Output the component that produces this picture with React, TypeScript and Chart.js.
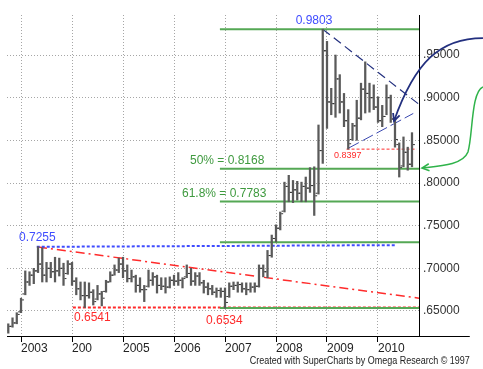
import React, { useEffect, useRef } from 'react';
import { Chart, registerables } from 'chart.js';

Chart.register(...registerables);

// Monthly EUR/GBP-style OHLC bars, Oct 2002 .. Sep 2010 (month index relative to Jan 2003)
const FIRST_MONTH = -3;
const opens = [
  0.627, 0.632, 0.636, 0.649, 0.670, 0.684, 0.692, 0.697, 0.705, 0.692, 0.700, 0.696,
  0.697, 0.700, 0.694, 0.705, 0.685, 0.676, 0.668, 0.668, 0.672, 0.664, 0.670, 0.673,
  0.684, 0.692, 0.698, 0.705, 0.697, 0.688, 0.690, 0.680, 0.675, 0.679, 0.686, 0.690,
  0.680, 0.679, 0.678, 0.686, 0.685, 0.686, 0.690, 0.694, 0.685, 0.691, 0.683, 0.678,
  0.676, 0.672, 0.674, 0.673, 0.667, 0.679, 0.680, 0.681, 0.676, 0.675, 0.678, 0.679,
  0.700, 0.696, 0.715, 0.735, 0.747, 0.767, 0.796, 0.789, 0.792, 0.788, 0.796, 0.794,
  0.797, 0.788, 0.838, 0.955, 0.895, 0.893, 0.922, 0.895, 0.873, 0.851, 0.867, 0.876,
  0.910, 0.905, 0.900, 0.889, 0.873, 0.878, 0.900, 0.875, 0.845, 0.820, 0.836, 0.822,
];
const highs = [
  0.635, 0.642, 0.648, 0.665, 0.697, 0.696, 0.700, 0.7255, 0.724, 0.707, 0.707, 0.713,
  0.712, 0.706, 0.709, 0.707, 0.689, 0.684, 0.684, 0.683, 0.675, 0.680, 0.673, 0.686,
  0.696, 0.704, 0.712, 0.713, 0.704, 0.698, 0.692, 0.689, 0.680, 0.698, 0.695, 0.692,
  0.689, 0.689, 0.690, 0.692, 0.695, 0.689, 0.704, 0.700, 0.695, 0.695, 0.686, 0.683,
  0.680, 0.677, 0.677, 0.677, 0.683, 0.684, 0.684, 0.683, 0.683, 0.683, 0.683, 0.704,
  0.704, 0.721, 0.739, 0.751, 0.766, 0.801, 0.809, 0.803, 0.802, 0.801, 0.807, 0.818,
  0.819, 0.868, 0.9803, 0.966, 0.911, 0.950, 0.927, 0.905, 0.886, 0.870, 0.897, 0.917,
  0.942, 0.917, 0.915, 0.901, 0.891, 0.915, 0.903, 0.877, 0.847, 0.854, 0.842, 0.859,
];
const lows = [
  0.624, 0.631, 0.635, 0.648, 0.669, 0.680, 0.682, 0.695, 0.684, 0.684, 0.689, 0.684,
  0.691, 0.680, 0.693, 0.680, 0.669, 0.663, 0.6541, 0.665, 0.657, 0.663, 0.656, 0.672,
  0.684, 0.692, 0.695, 0.689, 0.684, 0.684, 0.672, 0.672, 0.661, 0.678, 0.680, 0.671,
  0.675, 0.671, 0.677, 0.680, 0.680, 0.677, 0.689, 0.680, 0.680, 0.680, 0.671, 0.669,
  0.669, 0.666, 0.666, 0.6534, 0.666, 0.675, 0.672, 0.672, 0.669, 0.672, 0.672, 0.678,
  0.690, 0.689, 0.713, 0.731, 0.745, 0.766, 0.778, 0.777, 0.780, 0.778, 0.778, 0.789,
  0.762, 0.787, 0.823, 0.864, 0.880, 0.877, 0.882, 0.866, 0.8397, 0.850, 0.850, 0.874,
  0.882, 0.883, 0.886, 0.871, 0.866, 0.880, 0.871, 0.842, 0.807, 0.819, 0.815, 0.819,
];
const closes = [
  0.632, 0.636, 0.646, 0.663, 0.684, 0.692, 0.697, 0.705, 0.692, 0.700, 0.696, 0.697,
  0.700, 0.688, 0.705, 0.685, 0.676, 0.668, 0.668, 0.672, 0.661, 0.670, 0.665, 0.684,
  0.692, 0.698, 0.705, 0.697, 0.688, 0.690, 0.680, 0.675, 0.675, 0.686, 0.690, 0.680,
  0.679, 0.678, 0.686, 0.685, 0.686, 0.688, 0.694, 0.685, 0.691, 0.683, 0.678, 0.676,
  0.672, 0.674, 0.673, 0.660, 0.679, 0.680, 0.681, 0.676, 0.675, 0.678, 0.679, 0.700,
  0.696, 0.715, 0.735, 0.747, 0.764, 0.796, 0.789, 0.792, 0.788, 0.796, 0.794, 0.797,
  0.785, 0.838, 0.955, 0.895, 0.893, 0.922, 0.895, 0.873, 0.846, 0.867, 0.876, 0.910,
  0.905, 0.900, 0.889, 0.873, 0.878, 0.900, 0.875, 0.851, 0.818, 0.836, 0.822, 0.845,
];

const yearTickMonths = [0, 12, 24, 36, 48, 60, 72, 84];
const yearLabels = ['2003', '200', '2005', '2006', '2007', '2008', '2009', '2010'];
const priceTicks = [0.65, 0.7, 0.75, 0.8, 0.85, 0.9, 0.95];

// Fibonacci retracement of the 0.6534 -> 0.9803 move (0%, 50%, 61.8%, 76.4%, 100%)
const fibLevels = [0.9803, 0.8168, 0.7783, 0.7306, 0.6534];
const lowLevel2004 = 0.6541;
const highLevel2003 = 0.7255;
const low2009Level = 0.8397;

// axis range (month index / price)
const X_MIN = -3.3;
const X_MAX = 93.65;
const Y_MIN = 0.6207;
const Y_MAX = 0.9969;

const FONT = '"Liberation Sans", Arial, Helvetica, sans-serif';

const GREEN = '#55a855';
const BLUE = '#3f4cff';
const RED = '#ff2b2b';
const NAVY = '#23307f';

const seg = (x1: number, y1: number, x2: number, y2: number) => [
  { x: x1, y: y1 },
  { x: x2, y: y2 },
];

const lineDs = (data: any[], color: string, width: number, dash: number[]) => ({
  type: 'line' as const,
  data,
  borderColor: color,
  borderWidth: width,
  borderDash: dash,
  pointRadius: 0,
  fill: false,
  tension: 0,
  order: 2,
});

// text annotations anchored in data space (month index, price)
const textNotes = [
  { text: '0.9803', m: 68.94, v: 0.9899, color: BLUE, align: 'center', size: 12 },
  { text: '50% = 0.8168', m: 39.76, v: 0.8258, color: '#3f9a3f', align: 'left', size: 12 },
  { text: '61.8% = 0.7783', m: 37.88, v: 0.7877, color: '#3f9a3f', align: 'left', size: 12 },
  { text: '0.7255', m: -0.48, v: 0.7361, color: BLUE, align: 'left', size: 12 },
  { text: '0.6541', m: 12.46, v: 0.6418, color: RED, align: 'left', size: 12 },
  { text: '0.6534', m: 43.52, v: 0.6383, color: RED, align: 'left', size: 12 },
  { text: '0.8397', m: 73.64, v: 0.832, color: RED, align: 'left', size: 9 },
];

const navyArrow = [
  [108.7, 0.9699],
  [98.58, 0.9699],
  [92.7, 0.9418],
  [87.76, 0.8727],
];
const greenArrow = [
  [108.7, 0.9125],
  [105.88, 0.9067],
  [106.35, 0.8563],
  [105.17, 0.8363],
  [103.99, 0.8211],
  [98.58, 0.8199],
  [94.35, 0.8176],
];
const AXIS_END_MONTH = 105.6;
const CREDIT = 'Created with SuperCharts by Omega Research \u00a9 1997';

const annotationPlugin = {
  id: 'notes',
  afterDatasetsDraw(chart: any) {
    const { ctx, chartArea } = chart;
    const xs = chart.scales.x;
    const ys = chart.scales.y;
    const px = (m: number) => xs.getPixelForValue(m);
    const py = (v: number) => ys.getPixelForValue(v);
    ctx.save();

    // axis line extension to the right
    const by = Math.round(chartArea.bottom) + 0.5;
    ctx.strokeStyle = '#000';
    ctx.lineWidth = 1;
    ctx.setLineDash([]);
    ctx.beginPath();
    ctx.moveTo(chartArea.right, by);
    ctx.lineTo(px(AXIS_END_MONTH), by);
    ctx.stroke();

    // texts
    ctx.textBaseline = 'middle';
    for (const n of textNotes) {
      ctx.font = `${n.size}px ${FONT}`;
      ctx.fillStyle = n.color;
      ctx.textAlign = n.align as CanvasTextAlign;
      ctx.fillText(n.text, px(n.m), py(n.v));
    }

    const head = (tx: number, ty: number, fx: number, fy: number, color: string) => {
      const ang = Math.atan2(ty - fy, tx - fx);
      const L = 8;
      ctx.beginPath();
      ctx.moveTo(tx - L * Math.cos(ang - 0.45), ty - L * Math.sin(ang - 0.45));
      ctx.lineTo(tx, ty);
      ctx.lineTo(tx - L * Math.cos(ang + 0.45), ty - L * Math.sin(ang + 0.45));
      ctx.strokeStyle = color;
      ctx.stroke();
    };

    // navy curved arrow
    const n = navyArrow.map(([m, v]) => [px(m), py(v)]);
    ctx.strokeStyle = NAVY;
    ctx.lineWidth = 1.8;
    ctx.beginPath();
    ctx.moveTo(n[0][0], n[0][1]);
    ctx.bezierCurveTo(n[1][0], n[1][1], n[2][0], n[2][1], n[3][0], n[3][1]);
    ctx.stroke();
    head(n[3][0], n[3][1], n[2][0], n[2][1], NAVY);

    // green curved arrow
    const g = greenArrow.map(([m, v]) => [px(m), py(v)]);
    ctx.strokeStyle = '#2fb34a';
    ctx.lineWidth = 1.5;
    ctx.beginPath();
    ctx.moveTo(g[0][0], g[0][1]);
    ctx.bezierCurveTo(g[1][0], g[1][1], g[2][0], g[2][1], g[3][0], g[3][1]);
    ctx.bezierCurveTo(g[4][0], g[4][1], g[5][0], g[5][1], g[6][0], g[6][1]);
    ctx.stroke();
    head(g[6][0], g[6][1], g[5][0], g[5][1], '#2fb34a');

    // credit line
    ctx.font = `11px ${FONT}`;
    ctx.fillStyle = '#222';
    ctx.textAlign = 'right';
    ctx.fillText(CREDIT, px(AXIS_END_MONTH), chart.height - 8, 220);

    ctx.restore();
  },
};

export default function App() {
  const ref = useRef<HTMLCanvasElement | null>(null);

  useEffect(() => {
    if (!ref.current) return;
    const idx = (i: number) => FIRST_MONTH + i;
    const TICK_SHIFT = 0.45;
    const xEnd = X_MAX;

    const chart = new Chart(ref.current, {
      type: 'bar',
      data: {
        datasets: [
          {
            type: 'bar',
            data: highs.map((h, i) => ({ x: idx(i), y: [lows[i], h] })) as any,
            backgroundColor: '#5a5a5a',
            borderWidth: 0,
            barThickness: 1.6,
            grouped: false,
            order: 0,
          } as any,
          {
            type: 'scatter',
            data: opens.map((o, i) => ({ x: idx(i) - TICK_SHIFT, y: o })),
            pointStyle: 'line',
            pointRadius: 1,
            pointBorderColor: '#333',
            pointBorderWidth: 1,
            order: 0,
          } as any,
          {
            type: 'scatter',
            data: closes.map((c, i) => ({ x: idx(i) + TICK_SHIFT, y: c })),
            pointStyle: 'line',
            pointRadius: 1,
            pointBorderColor: '#333',
            pointBorderWidth: 1,
            order: 0,
          } as any,
          ...fibLevels.map((lv) => lineDs(seg(46.8, lv, xEnd, lv), GREEN, 2, [])),
          lineDs(seg(12.2, lowLevel2004, xEnd, lowLevel2004), RED, 2, [3, 2]),
          lineDs(seg(3.7, highLevel2003 - 0.0003, 88.0, highLevel2003 + 0.0017), BLUE, 2, [3, 2]),
          lineDs(seg(4, 0.725, xEnd, 0.665), RED, 1.5, [9, 4, 2, 4]),
          lineDs(seg(71, fibLevels[0], xEnd, 0.8922), NAVY, 1.2, [9, 5]),
          lineDs(seg(77, 0.8407, 92.3, 0.8815), '#3a48b0', 1, [12, 4]),
          lineDs(seg(76.6, low2009Level, 93.1, low2009Level), RED, 1, [3, 2]),
        ] as any,
      },
      options: {
        animation: false,
        responsive: true,
        maintainAspectRatio: false,
        events: [],
        layout: { padding: { top: 15, left: 7, right: 0, bottom: 0 } },
        plugins: {
          legend: { display: false },
          tooltip: { enabled: false },
          title: { display: false },
        },
        scales: {
          x: {
            type: 'linear',
            position: 'bottom',
            min: X_MIN,
            max: X_MAX,
            offset: false,
            bounds: 'data',
            afterBuildTicks: (s: any) => {
              s.ticks = yearTickMonths.map((v) => ({ value: v }));
            },
            afterFit: (s: any) => {
              s.height = 33;
            },
            grid: {
              color: '#a6a6a6',
              lineWidth: 1,
              drawTicks: true,
              tickLength: 6,
              tickColor: '#000',
              offset: false,
            },
            border: { display: true, color: '#000', width: 1, dash: [1, 2] },
            ticks: {
              autoSkip: false,
              maxRotation: 0,
              minRotation: 0,
              align: 'start',
              padding: -1,
              color: '#222',
              font: { family: FONT, size: 12 },
              callback: (_v: any, i: number) => yearLabels[i],
            },
          },
          y: {
            type: 'linear',
            position: 'right',
            min: Y_MIN,
            max: Y_MAX,
            bounds: 'data',
            afterBuildTicks: (s: any) => {
              s.ticks = priceTicks.map((v) => ({ value: v }));
            },
            afterFit: (s: any) => {
              s.width = 64;
            },
            grid: { color: '#a6a6a6', lineWidth: 1, drawTicks: false },
            border: { display: true, color: '#000', width: 1, dash: [1, 2] },
            ticks: {
              padding: 4,
              color: '#333',
              font: { family: FONT, size: 12 },
              callback: (v: any) => Number(v).toFixed(5).replace(/^0/, ''),
            },
          },
        },
      } as any,
      plugins: [annotationPlugin],
    });
    return () => chart.destroy();
  }, []);

  return (
    <div
      style={{
        position: 'fixed',
        left: 0,
        top: 0,
        width: 483,
        height: 369,
        background: '#fff',
      }}
    >
      <canvas ref={ref} />
    </div>
  );
}
